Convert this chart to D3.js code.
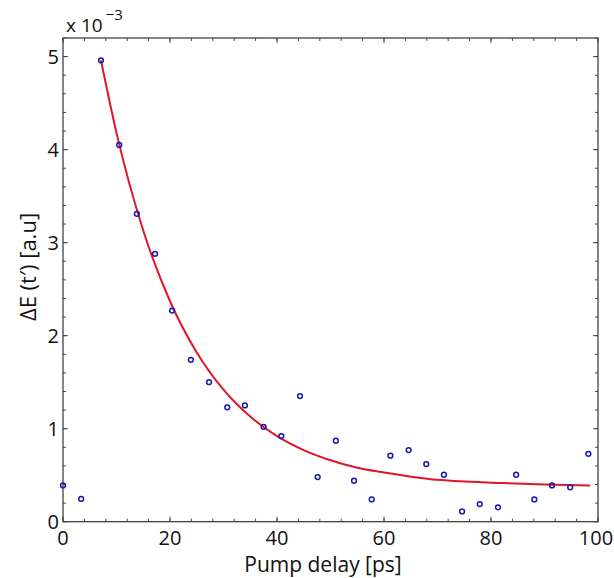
<!DOCTYPE html>
<html>
<head>
<meta charset="utf-8">
<script src="https://cdn.jsdelivr.net/npm/d3@7"></script>
<style>
  body { margin: 0; background: #fff; }
  text { font-family: "Open Sans", "Liberation Sans", sans-serif; fill: #111; }
</style>
</head>
<body>
<script>
// measured points (pump delay in ps, dE in units of 1e-3)
var delays = [0, 3.4, 7.1, 10.5, 13.8, 17.2, 20.4, 23.9, 27.3, 30.7, 34.0, 37.5, 40.8, 44.3,
              47.6, 51.0, 54.4, 57.7, 61.2, 64.6, 67.9, 71.2, 74.6, 77.9, 81.3, 84.7, 88.1,
              91.4, 94.8, 98.2];
var signal = [0.39, 0.245, 4.96, 4.05, 3.31, 2.88, 2.27, 1.74, 1.50, 1.23, 1.25, 1.02, 0.92, 1.35,
              0.48, 0.87, 0.44, 0.24, 0.71, 0.77, 0.62, 0.505, 0.11, 0.19, 0.155, 0.505, 0.24,
              0.39, 0.37, 0.73];
// fitted decay curve
var fitX = [7.1, 10, 15, 20, 25, 30, 35, 40, 45, 50, 55, 60, 70, 80, 90, 98.5];
var fitY = [4.96, 4.18, 3.13, 2.37, 1.82, 1.42, 1.13, 0.92, 0.77, 0.66, 0.58, 0.53, 0.45, 0.42, 0.40, 0.39];

var xTicks = [0, 20, 40, 60, 80, 100];
var yTicks = [0, 1, 2, 3, 4, 5];
var xMinor = d3.range(0, 100.1, 4);
var yMinor = d3.range(0, 5.21, 0.2);

var W = 614, H = 578;
var mLeft = 63, mRight = 598, mTop = 38, mBottom = 521.7;

var svg = d3.select("body").append("svg").attr("width", W).attr("height", H);

var x = d3.scaleLinear().domain([0, 100]).range([mLeft, mRight]);
var y = d3.scaleLinear().domain([0, 5.2]).range([mBottom, mTop]);

// box
svg.append("rect")
  .attr("x", mLeft).attr("y", mTop)
  .attr("width", mRight - mLeft).attr("height", mBottom - mTop)
  .attr("fill", "none").attr("stroke", "#333").attr("stroke-width", 1.2);

var tickCol = "#444";
// ticks point inward on all four sides
function xticks(vals, len) {
  vals.forEach(function (v) {
    svg.append("line").attr("x1", x(v)).attr("x2", x(v)).attr("y1", mBottom).attr("y2", mBottom - len).attr("stroke", tickCol);
    svg.append("line").attr("x1", x(v)).attr("x2", x(v)).attr("y1", mTop).attr("y2", mTop + len).attr("stroke", tickCol);
  });
}
function yticks(vals, len) {
  vals.forEach(function (v) {
    svg.append("line").attr("y1", y(v)).attr("y2", y(v)).attr("x1", mLeft).attr("x2", mLeft + len).attr("stroke", tickCol);
    svg.append("line").attr("y1", y(v)).attr("y2", y(v)).attr("x1", mRight).attr("x2", mRight - len).attr("stroke", tickCol);
  });
}
xticks(xMinor, 3);
xticks(xTicks, 5);
yticks(yMinor, 3);
yticks(yTicks, 5);

// tick labels
svg.append("g").selectAll("text")
  .data(xTicks).enter().append("text")
  .attr("x", function (d) { return d == 100 ? x(d) - 2 : x(d); })
  .attr("y", 545)
  .attr("text-anchor", "middle")
  .attr("font-size", 20)
  .text(function (d) { return d; });

svg.append("g").selectAll("text")
  .data(yTicks).enter().append("text")
  .attr("x", 59)
  .attr("y", function (d) { return y(d); })
  .attr("dy", "0.36em")
  .attr("text-anchor", "end")
  .attr("font-size", 20)
  .text(function (d) { return d; });

// exponent
var ex = svg.append("text").attr("x", 66).attr("y", 32).attr("font-size", 19);
ex.append("tspan").text("x 10");
ex.append("tspan").attr("dy", -12).attr("dx", 3).attr("font-size", 15).text("\u22123");

// axis titles
svg.append("text")
  .attr("x", 323).attr("y", 572)
  .attr("text-anchor", "middle")
  .attr("font-size", 21)
  .text("Pump delay [ps]");

svg.append("text")
  .attr("transform", "translate(36,267) rotate(-90)")
  .attr("text-anchor", "middle")
  .attr("font-size", 22)
  .text("\u0394E (t\u2032) [a.u]");

// fit curve
var line = d3.line()
  .x(function (d) { return x(d[0]); })
  .y(function (d) { return y(d[1]); })
  .curve(d3.curveMonotoneX);

svg.append("path")
  .datum(d3.zip(fitX, fitY))
  .attr("d", line)
  .attr("fill", "none")
  .attr("stroke", "#e0142c")
  .attr("stroke-width", 2);

// data points
svg.append("g").selectAll("circle")
  .data(d3.zip(delays, signal)).enter().append("circle")
  .attr("cx", function (d) { return x(d[0]); })
  .attr("cy", function (d) { return y(d[1]); })
  .attr("r", 2.4)
  .attr("fill", "none")
  .attr("stroke", "#1a1aa8")
  .attr("stroke-width", 1.5);
</script>
</body>
</html>
